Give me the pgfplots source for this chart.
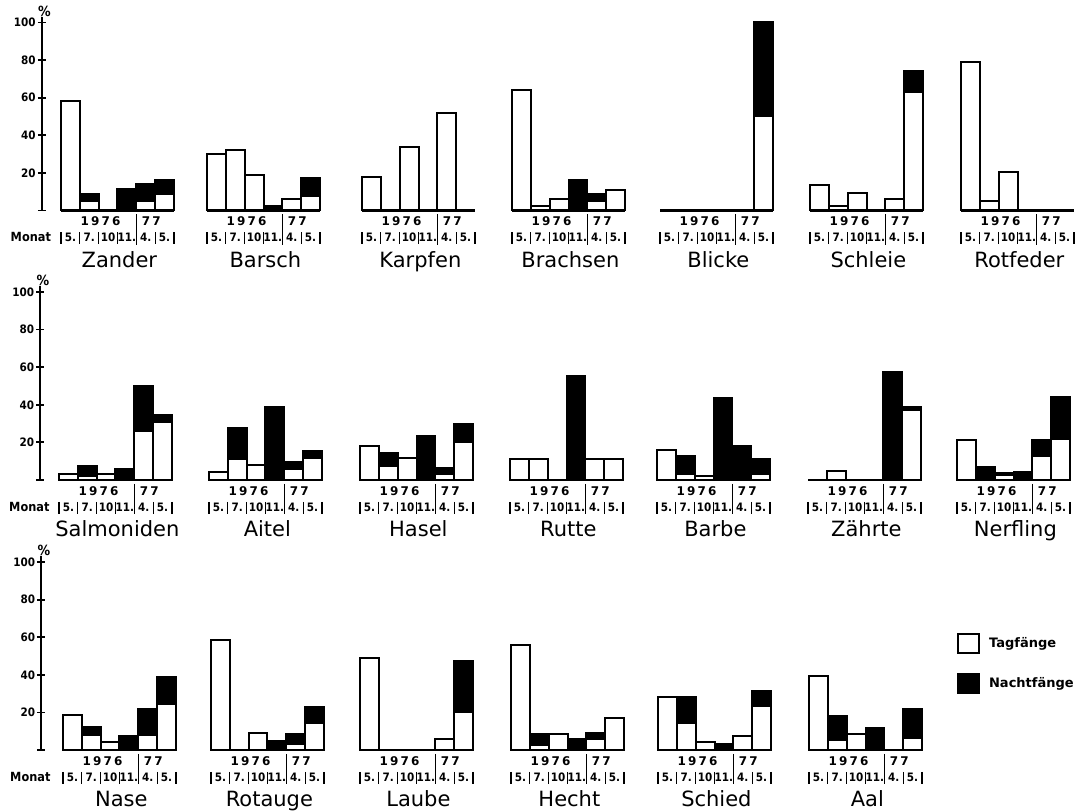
\documentclass[border=0pt]{standalone}
\usepackage{fontspec}
\setmainfont{DejaVu Sans}
\newfontfamily\condfont{DejaVu Sans Condensed}
\newfontfamily\yearfontfam{DejaVu Sans}[LetterSpace=18]
\usepackage{pgfplots}
\pgfplotsset{compat=1.18}
\newcommand\namefont{\fontsize{10.5pt}{12pt}\selectfont}
\newcommand\yrfont{\yearfontfam\bfseries\fontsize{6pt}{7pt}\selectfont}
\newcommand\mfont{\condfont\bfseries\fontsize{5.8pt}{7pt}\selectfont}
\newcommand\tfont{\condfont\bfseries\fontsize{5.8pt}{7pt}\selectfont}
\newcommand\legfont{\bfseries\fontsize{6.5pt}{8pt}\selectfont}
\pgfplotsset{
  panel/.style={scale only axis, anchor=south west, width=56.5pt, height=94pt,
    xmin=0.5, xmax=6.5, ymin=0, ymax=100, enlargelimits=false,
    axis x line=bottom, axis y line=none, axis line style={-, line width=1.4pt},
    xtick=\empty, ytick=\empty, ybar stacked, bar width=1, clip=false},
  yax/.style={scale only axis, anchor=south west, width=5pt, height=96.82pt,
    xmin=0, xmax=1, ymin=0, ymax=103, enlargelimits=false,
    axis x line=none, axis y line=left, axis line style={-, line width=1pt},
    ytick={0,20,40,60,80,100}, yticklabels={,20,40,60,80,100},
    tick align=center, major tick length=4pt, tick style={line width=0.9pt, black},
    yticklabel style={font=\tfont, inner sep=1pt}, clip=false},
  legimg/.style={legend image code/.code={\draw[##1, line width=1pt] (0pt,-4.75pt) rectangle (10.5pt,4.75pt);}},
}
\newcommand{\yaxis}[2]{%
  \begin{axis}[yax, at={(#1*0.5pt,-#2*0.5pt)}]
    \node[font=\condfont\bfseries\fontsize{7pt}{8pt}\selectfont] at (axis cs:0.25,106) {\%};
    \node[anchor=base east, font=\condfont\bfseries\fontsize{6.3pt}{7pt}\selectfont] at (axis cs:1.6,-16.5) {Monat};
  \end{axis}}
\newcommand{\panel}[6]{%
  \begin{axis}[panel, at={(#1*0.5pt,-#2*0.5pt)}, #6]
    \addplot[fill=white, draw=black, line width=1pt] coordinates {#4};
    \addplot[fill=black, draw=black, line width=1pt] coordinates {#5};
    \node[anchor=base, font=\namefont] at (axis cs:3.6,-30.3) {#3};
    \node[anchor=base, font=\yrfont] at (axis cs:2.6,-8.1) {1976};
    \node[anchor=base, font=\yrfont] at (axis cs:5.3,-8.1) {77};
    \draw[line width=0.7pt] (axis cs:4.5,-2) -- (axis cs:4.5,-18.2);
    \node[anchor=base, font=\mfont] at (axis cs:1,-16.5) {5.};
    \node[anchor=base, font=\mfont] at (axis cs:2,-16.5) {7.};
    \node[anchor=base, font=\mfont] at (axis cs:3,-16.5) {10};
    \node[anchor=base, font=\mfont] at (axis cs:4,-16.5) {11.};
    \node[anchor=base, font=\mfont] at (axis cs:5,-16.5) {4.};
    \node[anchor=base, font=\mfont] at (axis cs:6,-16.5) {5.};
    \draw[line width=0.6pt] (axis cs:0.5,-11.7) -- (axis cs:0.5,-18);
    \draw[line width=0.6pt] (axis cs:1.5,-11.7) -- (axis cs:1.5,-18);
    \draw[line width=0.6pt] (axis cs:2.5,-11.7) -- (axis cs:2.5,-18);
    \draw[line width=0.6pt] (axis cs:3.5,-11.7) -- (axis cs:3.5,-18);
    \draw[line width=0.6pt] (axis cs:5.5,-11.7) -- (axis cs:5.5,-18);
    \draw[line width=0.6pt] (axis cs:6.5,-11.7) -- (axis cs:6.5,-18);
  \end{axis}}
\begin{document}
\begin{tikzpicture}
\useasboundingbox (0,0) rectangle (538.5pt,-406pt);
% Row 1
\yaxis{42}{210.5}
\panel{61}{210.5}{Zander}{(1,58)(2,5)(3,0)(4,0)(5,5)(6,9)}{(1,0)(2,4)(3,0)(4,11.5)(5,9)(6,7)}{}
\panel{207}{210.5}{Barsch}{(1,30)(2,32)(3,19)(4,0)(5,6)(6,7.5)}{(1,0)(2,0)(3,0)(4,2.5)(5,0)(6,10)}{}
\panel{362}{210.5}{Karpfen}{(1,18)(2,0)(3,34)(4,0)(5,52)(6,0)}{(1,0)(2,0)(3,0)(4,0)(5,0)(6,0)}{}
\panel{512}{210.5}{Brachsen}{(1,64)(2,2.5)(3,6)(4,0)(5,5)(6,11)}{(1,0)(2,0)(3,0)(4,16)(5,4)(6,0)}{}
\panel{660}{210.5}{Blicke}{(1,0)(2,0)(3,0)(4,0)(5,0)(6,50)}{(1,0)(2,0)(3,0)(4,0)(5,0)(6,50)}{}
\panel{810}{210.5}{Schleie}{(1,13.5)(2,2.5)(3,9.5)(4,0)(5,6)(6,63)}{(1,0)(2,0)(3,0)(4,0)(5,0)(6,11)}{}
\panel{961}{210.5}{Rotfeder}{(1,79)(2,5)(3,20.5)(4,0)(5,0)(6,0)}{(1,0)(2,0)(3,0)(4,0)(5,0)(6,0)}{}
% Row 2
\yaxis{40.5}{480}
\panel{59}{480}{Salmoniden}{(1,3)(2,2)(3,3.3)(4,0)(5,26)(6,31)}{(1,0)(2,5.5)(3,0)(4,5.6)(5,24)(6,3.5)}{}
\panel{209}{480}{Aitel}{(1,4)(2,11)(3,8)(4,0)(5,5.6)(6,11.5)}{(1,0)(2,16.7)(3,0)(4,39)(5,4)(6,4)}{}
\panel{360}{480}{Hasel}{(1,18)(2,7.4)(3,11.5)(4,0)(5,3)(6,20)}{(1,0)(2,7)(3,0)(4,23.3)(5,3.5)(6,10)}{}
\panel{510}{480}{Rutte}{(1,11)(2,11)(3,0)(4,0)(5,11)(6,11)}{(1,0)(2,0)(3,0)(4,55.4)(5,0)(6,0)}{}
\panel{657}{480}{Barbe}{(1,15.7)(2,3.4)(3,2)(4,0)(5,0)(6,3.4)}{(1,0)(2,9.3)(3,0)(4,43.6)(5,18)(6,7.6)}{}
\panel{808}{480}{Zährte}{(1,0)(2,4.8)(3,0)(4,0)(5,0)(6,37)}{(1,0)(2,0)(3,0)(4,0)(5,57.7)(6,2)}{}
\panel{957}{480}{Nerfling}{(1,21.5)(2,0)(3,2.5)(4,0)(5,13)(6,22)}{(1,0)(2,7)(3,1)(4,4.4)(5,8.5)(6,22.4)}{}
% Row 3
\yaxis{41.5}{750}
\panel{63}{750}{Nase}{(1,18.5)(2,8)(3,4.3)(4,0)(5,8)(6,24.5)}{(1,0)(2,4)(3,0)(4,7.5)(5,14)(6,14.2)}{}
\panel{211}{750}{Rotauge}{(1,58.3)(2,0)(3,8.9)(4,0)(5,3.4)(6,14.3)}{(1,0)(2,0)(3,0)(4,4.8)(5,5)(6,8.7)}{}
\panel{360}{750}{Laube}{(1,48.8)(2,0)(3,0)(4,0)(5,6)(6,20)}{(1,0)(2,0)(3,0)(4,0)(5,0)(6,27.5)}{}
\panel{511}{750}{Hecht}{(1,56)(2,2.5)(3,8.4)(4,0)(5,5.7)(6,16.8)}{(1,0)(2,6.2)(3,0)(4,5.7)(5,3.2)(6,0)}{}
\panel{658}{750}{Schied}{(1,28)(2,14.3)(3,4.3)(4,0)(5,7.5)(6,23.5)}{(1,0)(2,14)(3,0)(4,3.4)(5,0)(6,8)}{}
\panel{809}{750}{Aal}{(1,39.6)(2,5.2)(3,8.4)(4,0)(5,0)(6,6.2)}{(1,0)(2,13)(3,0)(4,11.6)(5,0)(6,15.5)}{legend entries={Tagfänge,Nachtfänge}, legimg, legend cell align=left, legend style={at={(rel axis cs:1.307,0.624)}, anchor=north west, draw=none, fill=none, inner sep=0pt, row sep=9.5pt, column sep=2.5pt, font=\legfont}}
\end{tikzpicture}
\end{document}
